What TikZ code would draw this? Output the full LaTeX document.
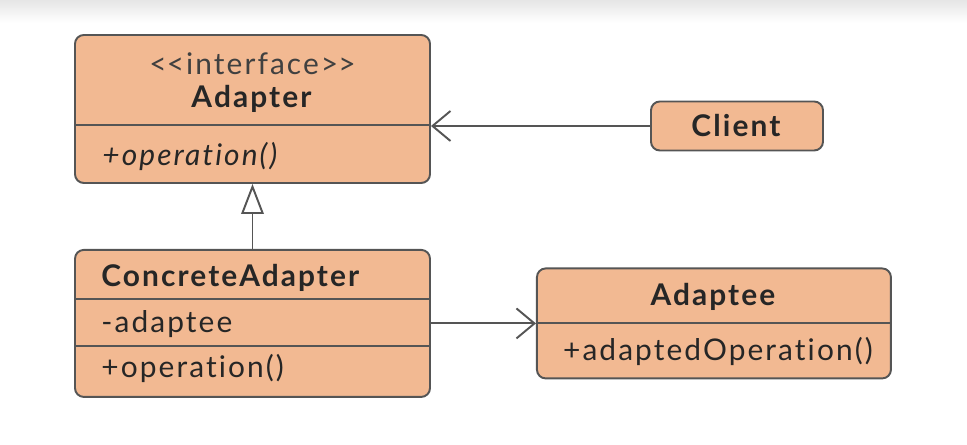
\documentclass[tikz,border=0pt]{standalone}
\usepackage{fontspec}
\setmainfont{Lato}[LetterSpace=7, Ligatures=NoCommon]
\usepackage{xcolor}
\usepackage{tikz}
\usetikzlibrary{arrows.meta,positioning}
\definecolor{boxfill}{RGB}{242,185,146}
\definecolor{boxline}{RGB}{85,85,85}

\begin{document}
\begin{tikzpicture}[node distance=1.3cm,
    block/.style={rectangle, draw=boxline, fill=boxfill, rounded corners=5pt, line width=1.1pt, minimum width=7.1cm},
    txt/.style={text=black!85, font=\fontsize{17}{20}\selectfont, inner sep=0pt},
    divider/.style={draw=boxline, line width=1.1pt},
    arrow/.style={draw=boxline, line width=1.1pt, -{Straight Barb[length=0.36cm, width=0.6cm]}},
    inherit/.style={draw=boxline, line width=1.1pt, -{Triangle[open, length=0.6cm, width=0.45cm, fill=white]}}]

    \useasboundingbox (0,0) rectangle (19.34,8.9);
    \shade[top color=black!10, bottom color=white] (0,8.9) rectangle (19.34,8.45);

    \node [block, minimum height=2.96cm] (adapter) at (5.05,6.72) {};
    \node [block, minimum height=2.94cm, below=of adapter] (concrete) {};
    \node [block, minimum width=3.44cm, minimum height=0.98cm, txt] (client) at (14.74,6.38) {\textbf{Client}};
    \node [block, minimum width=7.08cm, minimum height=2.2cm, right=2.1cm of concrete] (adaptee) {};

    \node [txt, text=black!75] (stereo) at ([yshift=-0.6cm]adapter.north) {<\kern0pt<interface>\kern0pt>};
    \node [txt] (adaptername) at ([yshift=-1.3cm]adapter.north) {\textbf{Adapter}};
    \node [txt, anchor=west] (adapterop) at ([xshift=0.56cm, yshift=-2.44cm]adapter.north west) {\textit{+operation()}};

    \node [txt, anchor=west] (concretename) at ([xshift=0.54cm, yshift=-0.58cm]concrete.north west) {\textbf{ConcreteAdapter}};
    \node [txt, anchor=west] (concretefield) at ([xshift=0.54cm, yshift=-1.5cm]concrete.north west) {-adaptee};
    \node [txt, anchor=west] (concreteop) at ([xshift=0.54cm, yshift=-2.4cm]concrete.north west) {+operation()};

    \node [txt] (adapteename) at ([yshift=-0.58cm]adaptee.north) {\textbf{Adaptee}};
    \node [txt] (adapteeop) at ([xshift=0.08cm, yshift=-1.68cm]adaptee.north) {+adaptedOperation()};

    \draw [divider] ([yshift=-1.82cm]adapter.north west) -- ([yshift=-1.82cm]adapter.north east);
    \draw [divider] ([yshift=-1cm]concrete.north west) -- ([yshift=-1cm]concrete.north east);
    \draw [divider] ([yshift=-1.94cm]concrete.north west) -- ([yshift=-1.94cm]concrete.north east);
    \draw [divider] (adaptee.west) -- (adaptee.east);

    \draw [arrow] (client.west) -- (client.west -| adapter.east);
    \draw [inherit] (concrete.north) -- (adapter.south);
    \draw [arrow] (concrete.east) -- (adaptee.west);
\end{tikzpicture}
\end{document}
